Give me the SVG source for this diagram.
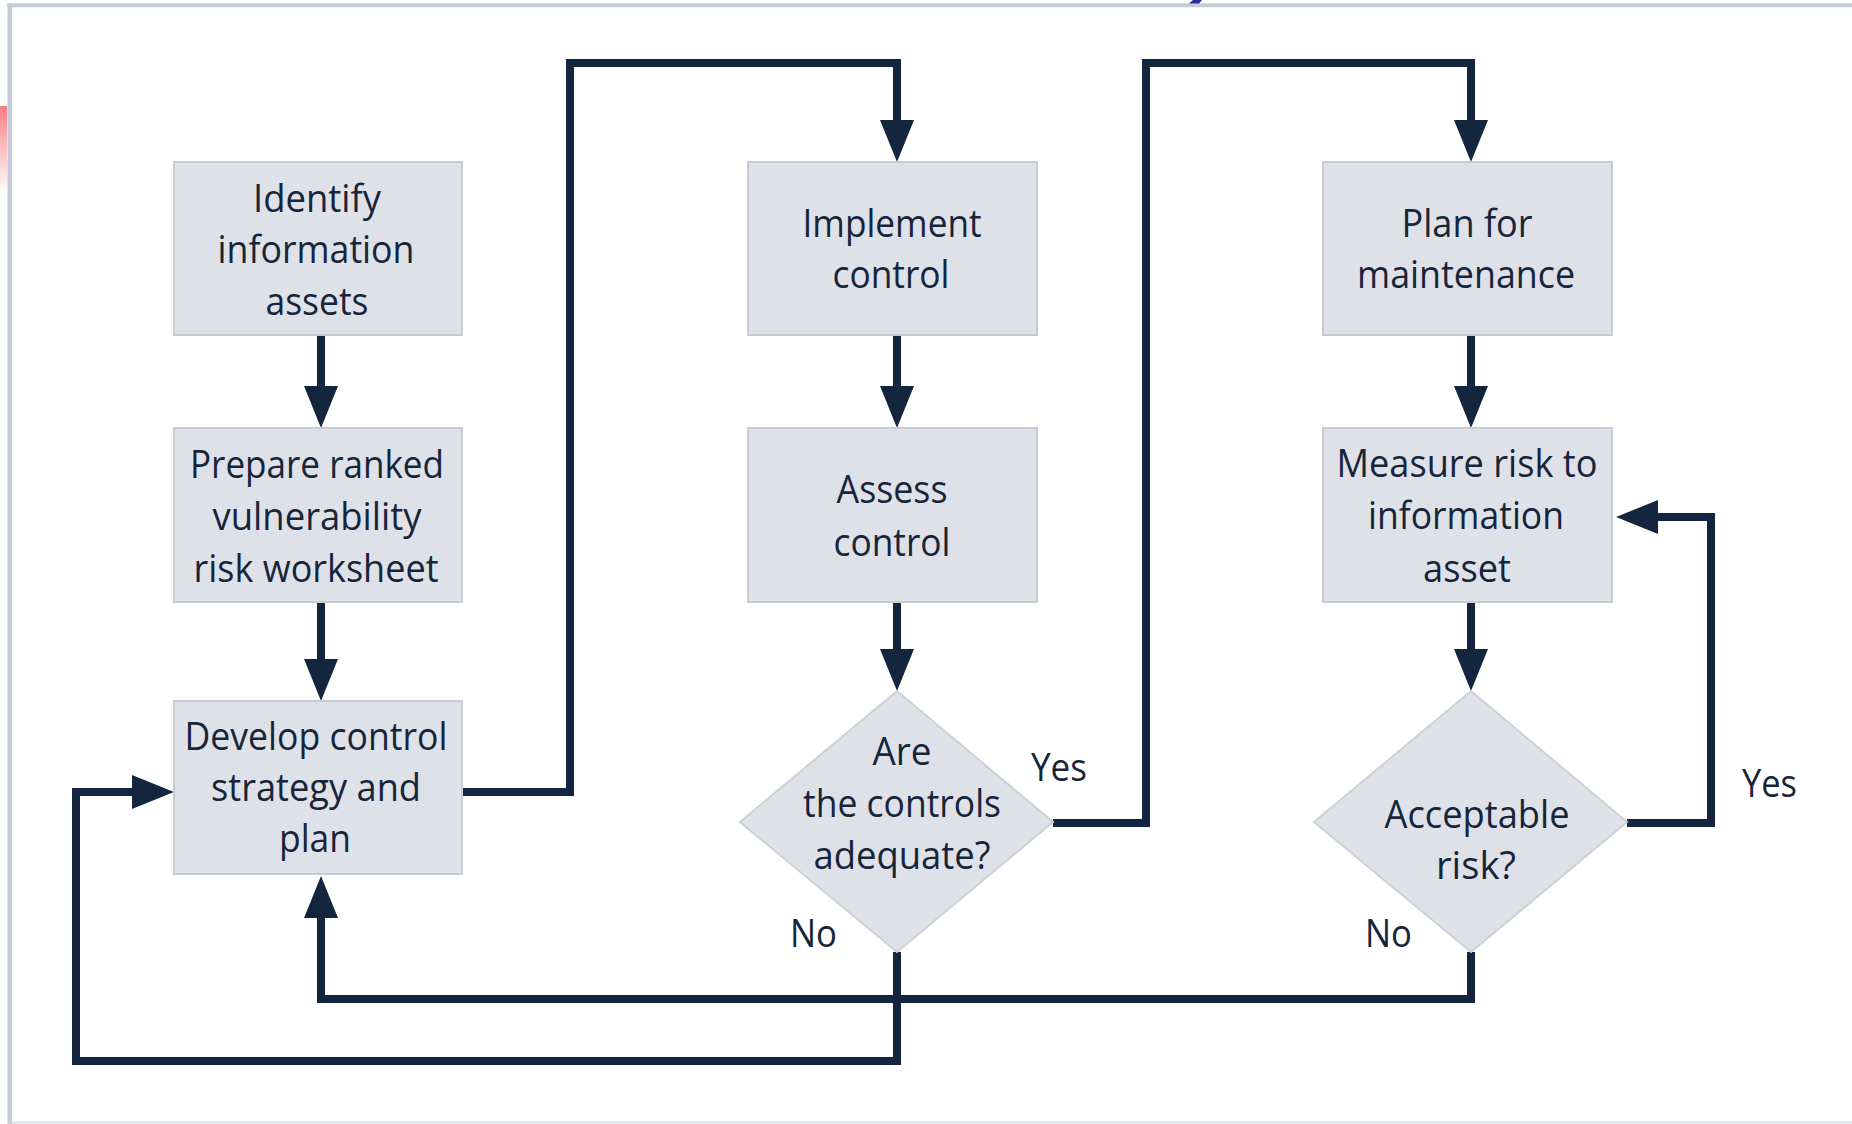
<svg xmlns="http://www.w3.org/2000/svg" width="1852" height="1124" viewBox="0 0 1852 1124">
<defs>
<linearGradient id="pink" x1="0" y1="0" x2="0" y2="1">
<stop offset="0" stop-color="#f77f84"/>
<stop offset="1" stop-color="#ffffff"/>
</linearGradient>
<marker id="ah" markerUnits="userSpaceOnUse" markerWidth="44" markerHeight="34" refX="2" refY="17" orient="auto">
<path d="M0,0 L42,17 L0,34 Z" fill="#14263d"/>
</marker>
<style>
.box{fill:#dfe1e8;stroke:#c9cbd3;stroke-width:2}
.dia{fill:#dfe1e8;stroke:#cdd0d7;stroke-width:2}
.t{font-family:"Open Sans","Noto Sans","Liberation Sans",sans-serif;font-size:38px;font-weight:500;fill:#16253a;text-anchor:middle}
.l{font-family:"Open Sans","Noto Sans","Liberation Sans",sans-serif;font-size:38px;font-weight:500;fill:#16253a}
.ca{fill:none;stroke:#14263d;stroke-width:8;stroke-linejoin:miter;marker-end:url(#ah)}
</style>
</defs>
<rect x="0" y="0" width="1852" height="1124" fill="#ffffff"/>
<rect x="0" y="106" width="7" height="88" fill="url(#pink)"/>
<line x1="7" y1="5.3" x2="1852" y2="5.3" stroke="#c6ccd7" stroke-width="4"/>
<line x1="9.7" y1="3.5" x2="9.7" y2="1124" stroke="#c6ccd7" stroke-width="4.5"/>
<line x1="12" y1="1122.5" x2="1852" y2="1122.5" stroke="#e2e8ee" stroke-width="3"/>
<polygon points="1193,0 1202,0 1199,3.5 1189,3.5" fill="#2b2b9e"/>

<g id="connectors">
<path class="ca" d="M321,335 V388"/>
<path class="ca" d="M321,602 V661"/>
<path class="ca" d="M897,335 V388"/>
<path class="ca" d="M897,602 V651"/>
<path class="ca" d="M1471,335 V388"/>
<path class="ca" d="M1471,602 V651"/>
<path class="ca" d="M462,792 H570 V63 H897 V122"/>
<path class="ca" d="M1053,823 H1146 V63 H1471 V122"/>
<path class="ca" d="M1627,823 H1711 V517 H1656"/>
<path class="ca" d="M1471,952 V999 H321 V916"/>
<path class="ca" d="M897,952 V1061 H76 V792 H134"/>
</g>

<g id="identify">
<rect class="box" x="174" y="162" width="288" height="173"/>
<text class="t" x="317" y="212" textLength="128" lengthAdjust="spacingAndGlyphs">Identify</text>
<text class="t" x="316" y="263" textLength="197" lengthAdjust="spacingAndGlyphs">information</text>
<text class="t" x="317" y="315" textLength="103" lengthAdjust="spacingAndGlyphs">assets</text>
</g>
<g id="prepare">
<rect class="box" x="174" y="428" width="288" height="174"/>
<text class="t" x="317" y="478" textLength="254" lengthAdjust="spacingAndGlyphs">Prepare ranked</text>
<text class="t" x="317" y="530" textLength="209" lengthAdjust="spacingAndGlyphs">vulnerability</text>
<text class="t" x="316" y="582" textLength="245" lengthAdjust="spacingAndGlyphs">risk worksheet</text>
</g>
<g id="develop">
<rect class="box" x="174" y="701" width="288" height="173"/>
<text class="t" x="316" y="750" textLength="263" lengthAdjust="spacingAndGlyphs">Develop control</text>
<text class="t" x="316" y="801" textLength="210" lengthAdjust="spacingAndGlyphs">strategy and</text>
<text class="t" x="315" y="852" textLength="72" lengthAdjust="spacingAndGlyphs">plan</text>
</g>
<g id="implement">
<rect class="box" x="748" y="162" width="289" height="173"/>
<text class="t" x="892" y="237" textLength="179" lengthAdjust="spacingAndGlyphs">Implement</text>
<text class="t" x="891" y="288" textLength="117" lengthAdjust="spacingAndGlyphs">control</text>
</g>
<g id="assess">
<rect class="box" x="748" y="428" width="289" height="174"/>
<text class="t" x="892" y="503" textLength="111" lengthAdjust="spacingAndGlyphs">Assess</text>
<text class="t" x="892" y="556" textLength="117" lengthAdjust="spacingAndGlyphs">control</text>
</g>
<g id="adequate">
<polygon class="dia" points="897,691 1053,822 897,952 740,822"/>
<text class="t" x="902" y="765" textLength="59" lengthAdjust="spacingAndGlyphs">Are</text>
<text class="t" x="902" y="817" textLength="198" lengthAdjust="spacingAndGlyphs">the controls</text>
<text class="t" x="902" y="869" textLength="177" lengthAdjust="spacingAndGlyphs">adequate?</text>
</g>
<g id="plan-maint">
<rect class="box" x="1323" y="162" width="289" height="173"/>
<text class="t" x="1467" y="237" textLength="131" lengthAdjust="spacingAndGlyphs">Plan for</text>
<text class="t" x="1466" y="288" textLength="218" lengthAdjust="spacingAndGlyphs">maintenance</text>
</g>
<g id="measure">
<rect class="box" x="1323" y="428" width="289" height="174"/>
<text class="t" x="1467" y="477" textLength="261" lengthAdjust="spacingAndGlyphs">Measure risk to</text>
<text class="t" x="1466" y="529" textLength="196" lengthAdjust="spacingAndGlyphs">information</text>
<text class="t" x="1467" y="582" textLength="88" lengthAdjust="spacingAndGlyphs">asset</text>
</g>
<g id="acceptable">
<polygon class="dia" points="1471,691 1627,822 1471,952 1314,822"/>
<text class="t" x="1477" y="828" textLength="185" lengthAdjust="spacingAndGlyphs">Acceptable</text>
<text class="t" x="1476" y="879" textLength="80" lengthAdjust="spacingAndGlyphs">risk?</text>
</g>
<g id="labels">
<text class="l" x="1031" y="781" textLength="56" lengthAdjust="spacingAndGlyphs">Yes</text>
<text class="l" x="790" y="947" textLength="47" lengthAdjust="spacingAndGlyphs">No</text>
<text class="l" x="1742" y="797" textLength="55" lengthAdjust="spacingAndGlyphs">Yes</text>
<text class="l" x="1365" y="947" textLength="47" lengthAdjust="spacingAndGlyphs">No</text>
</g>
</svg>
